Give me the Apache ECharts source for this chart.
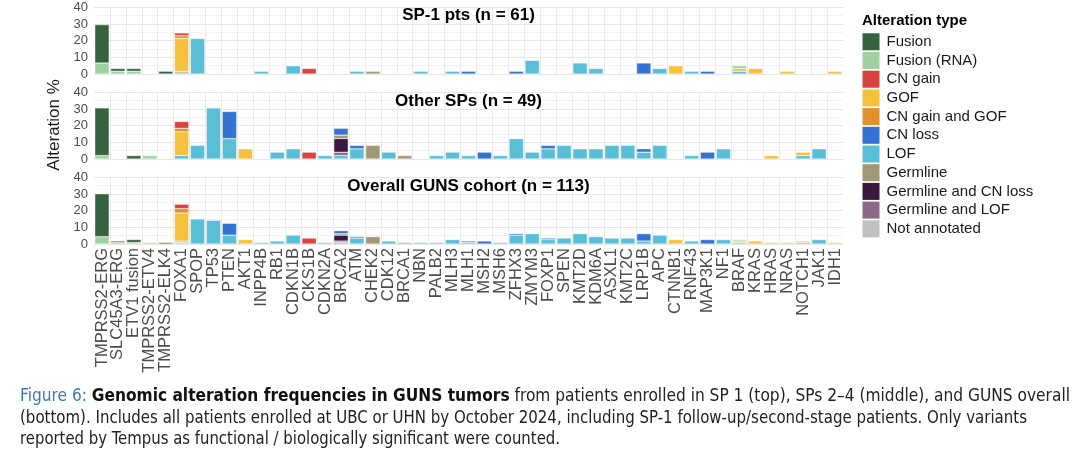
<!DOCTYPE html>
<html><head><meta charset="utf-8">
<script src="https://cdn.jsdelivr.net/npm/echarts@6/dist/echarts.min.js"></script>
<style>html,body{margin:0;padding:0;background:#fff}#c{width:1080px;height:456px}</style>
</head><body><div id="c"></div><script>
// ---------------- DATA ----------------
const genes = ["TMPRSS2-ERG","SLC45A3-ERG","ETV1 fusion","TMPRSS2-ETV4","TMPRSS2-ELK4","FOXA1","SPOP","TP53","PTEN","AKT1","INPP4B","RB1","CDKN1B","CKS1B","CDKN2A","BRCA2","ATM","CHEK2","CDK12","BRCA1","NBN","PALB2","MLH3","MLH1","MSH2","MSH6","ZFHX3","ZMYM3","FOXP1","SPEN","KMT2D","KDM6A","ASXL1","KMT2C","LRP1B","APC","CTNNB1","RNF43","MAP3K1","NF1","BRAF","KRAS","HRAS","NRAS","NOTCH1","JAK1","IDH1"];
const legendOrder = ["Fusion","Fusion (RNA)","CN gain","GOF","CN gain and GOF","CN loss","LOF","Germline","Germline and CN loss","Germline and LOF","Not annotated"];
const stackOrder = ["Not annotated","LOF","Germline and LOF","Germline and CN loss","Germline","CN loss","GOF","CN gain and GOF","CN gain","Fusion (RNA)","Fusion"];
const panelTitles = ["SP-1 pts (n = 61)","Other SPs (n = 49)","Overall GUNS cohort (n = 113)"];
const yTicks = [0,10,20,30,40];
const yLabel = "Alteration %";
const legendTitle = "Alteration type";

// [gene, alteration type, alteration %]
const sp1Values = [
 ["TMPRSS2-ERG","Fusion (RNA)",6.6],["TMPRSS2-ERG","Fusion",23.0],
 ["SLC45A3-ERG","Fusion (RNA)",1.64],["SLC45A3-ERG","Fusion",1.64],
 ["ETV1 fusion","Fusion (RNA)",1.64],["ETV1 fusion","Fusion",1.64],
 ["TMPRSS2-ELK4","Fusion",1.64],
 ["FOXA1","Not annotated",1.64],["FOXA1","GOF",19.7],["FOXA1","CN gain and GOF",1.64],["FOXA1","CN gain",1.64],
 ["SPOP","LOF",21.3],
 ["INPP4B","LOF",1.64],
 ["CDKN1B","LOF",4.9],
 ["CKS1B","CN gain",3.3],
 ["ATM","LOF",1.64],
 ["CHEK2","Germline",1.64],
 ["NBN","LOF",1.64],
 ["MLH3","LOF",1.64],
 ["MLH1","CN loss",1.64],
 ["ZFHX3","CN loss",1.64],
 ["ZMYM3","LOF",8.2],
 ["KMT2D","LOF",6.6],
 ["KDM6A","LOF",3.3],
 ["LRP1B","CN loss",6.6],
 ["APC","LOF",3.3],
 ["CTNNB1","GOF",4.9],
 ["RNF43","LOF",1.64],
 ["MAP3K1","CN loss",1.64],
 ["BRAF","LOF",1.64],["BRAF","GOF",1.64],["BRAF","Fusion (RNA)",1.64],
 ["KRAS","GOF",3.3],
 ["NRAS","GOF",1.64],
 ["IDH1","GOF",1.64]
];
const otherValues = [
 ["TMPRSS2-ERG","Fusion (RNA)",2.04],["TMPRSS2-ERG","Fusion",28.6],
 ["ETV1 fusion","Fusion",2.04],
 ["TMPRSS2-ETV4","Fusion (RNA)",2.04],
 ["FOXA1","LOF",2.04],["FOXA1","GOF",14.3],["FOXA1","CN gain and GOF",2.04],["FOXA1","CN gain",4.1],
 ["SPOP","LOF",8.2],
 ["TP53","LOF",30.6],
 ["PTEN","LOF",12.2],["PTEN","CN loss",16.3],
 ["AKT1","GOF",6.1],
 ["RB1","LOF",4.1],
 ["CDKN1B","LOF",6.1],
 ["CKS1B","CN gain",4.1],
 ["CDKN2A","LOF",2.04],
 ["BRCA2","LOF",2.04],["BRCA2","Germline and LOF",2.04],["BRCA2","Germline and CN loss",8.2],["BRCA2","Germline",2.04],["BRCA2","CN loss",4.1],
 ["ATM","LOF",6.1],["ATM","CN loss",2.04],
 ["CHEK2","Germline",8.2],
 ["CDK12","LOF",4.1],
 ["BRCA1","Germline",2.04],
 ["PALB2","LOF",2.04],
 ["MLH3","LOF",4.1],
 ["MLH1","LOF",2.04],
 ["MSH2","CN loss",4.1],
 ["MSH6","LOF",2.04],
 ["ZFHX3","LOF",12.2],
 ["ZMYM3","LOF",4.1],
 ["FOXP1","LOF",6.1],["FOXP1","CN loss",2.04],
 ["SPEN","LOF",8.2],
 ["KMT2D","LOF",6.1],
 ["KDM6A","LOF",6.1],
 ["ASXL1","LOF",8.2],
 ["KMT2C","LOF",8.2],
 ["LRP1B","LOF",4.1],["LRP1B","CN loss",2.04],
 ["APC","LOF",8.2],
 ["RNF43","LOF",2.04],
 ["MAP3K1","CN loss",4.1],
 ["NF1","LOF",6.1],
 ["HRAS","GOF",2.04],
 ["NOTCH1","LOF",2.04],["NOTCH1","GOF",2.04],
 ["JAK1","LOF",6.1]
];
const overallValues = [
 ["TMPRSS2-ERG","Fusion (RNA)",4.4],["TMPRSS2-ERG","Fusion",25.7],
 ["SLC45A3-ERG","Fusion (RNA)",0.885],["SLC45A3-ERG","Fusion",0.885],
 ["ETV1 fusion","Fusion (RNA)",0.885],["ETV1 fusion","Fusion",1.77],
 ["TMPRSS2-ETV4","Fusion (RNA)",0.885],
 ["TMPRSS2-ELK4","Fusion",0.885],
 ["FOXA1","Not annotated",0.885],["FOXA1","LOF",0.885],["FOXA1","GOF",16.8],["FOXA1","CN gain and GOF",2.65],["FOXA1","CN gain",2.65],
 ["SPOP","LOF",15.0],
 ["TP53","LOF",14.2],
 ["PTEN","LOF",5.3],["PTEN","CN loss",7.1],
 ["AKT1","GOF",2.65],
 ["INPP4B","LOF",0.885],
 ["RB1","LOF",1.77],
 ["CDKN1B","LOF",5.3],
 ["CKS1B","CN gain",3.54],
 ["CDKN2A","LOF",0.885],
 ["BRCA2","LOF",0.885],["BRCA2","Germline and LOF",0.885],["BRCA2","Germline and CN loss",3.54],["BRCA2","Germline",0.885],["BRCA2","CN loss",1.77],
 ["ATM","LOF",3.54],["ATM","CN loss",0.885],
 ["CHEK2","Germline",4.42],
 ["CDK12","LOF",1.77],
 ["BRCA1","Germline",0.885],
 ["NBN","LOF",0.885],
 ["PALB2","LOF",0.885],
 ["MLH3","LOF",2.65],
 ["MLH1","LOF",0.885],["MLH1","CN loss",0.885],
 ["MSH2","CN loss",1.77],
 ["MSH6","LOF",0.885],
 ["ZFHX3","LOF",5.3],["ZFHX3","CN loss",0.885],
 ["ZMYM3","LOF",6.2],
 ["FOXP1","LOF",2.65],["FOXP1","CN loss",0.885],
 ["SPEN","LOF",3.54],
 ["KMT2D","LOF",6.2],
 ["KDM6A","LOF",4.42],
 ["ASXL1","LOF",3.54],
 ["KMT2C","LOF",3.54],
 ["LRP1B","LOF",1.77],["LRP1B","CN loss",4.42],
 ["APC","LOF",5.3],
 ["CTNNB1","GOF",2.65],
 ["RNF43","LOF",1.77],
 ["MAP3K1","CN loss",2.65],
 ["NF1","LOF",2.65],
 ["BRAF","LOF",0.885],["BRAF","GOF",0.885],["BRAF","Fusion (RNA)",0.885],
 ["KRAS","GOF",1.77],
 ["HRAS","GOF",0.885],
 ["NRAS","GOF",0.885],
 ["NOTCH1","LOF",0.885],["NOTCH1","GOF",0.885],
 ["JAK1","LOF",2.65],
 ["IDH1","GOF",0.885]
];
const captionLines = [
 [{t:"Figure 6: ",s:"blue"},{t:"Genomic alteration frequencies in GUNS tumors",s:"b"},{t:" from patients enrolled in SP 1 (top), SPs 2–4 (middle), and GUNS overall",s:""}],
 [{t:"(bottom). Includes all patients enrolled at UBC or UHN by October 2024, including SP-1 follow-up/second-stage patients. Only variants",s:""}],
 [{t:"reported by Tempus as functional / biologically significant were counted.",s:""}]
];

// ---------------- STYLE ----------------
const typeColors = {
 "Fusion":"#37623f","Fusion (RNA)":"#a0d0a2","CN gain":"#d9433e","GOF":"#f5c13d",
 "CN gain and GOF":"#e0902c","CN loss":"#3473d2","LOF":"#58bfd7","Germline":"#a19876",
 "Germline and CN loss":"#3a1941","Germline and LOF":"#8b6a86","Not annotated":"#c0c0c0"
};
const FONT = '"Liberation Sans", Arial, sans-serif';
const CAP_FONT = '"Liberation Sans Narrow", "DejaVu Sans Condensed", "Liberation Sans", sans-serif';
const gridLeft = 94, gridWidth = 749, gridH = 66.7;
const gridTops = [7.3, 92.3, 177.3];
const panels = [sp1Values, otherValues, overallValues];

const grids = [], xAxes = [], yAxes = [], series = [];
panels.forEach((vals, p) => {
  grids.push({left: gridLeft, width: gridWidth, top: gridTops[p], height: gridH, containLabel: false});
  xAxes.push({type:'category', gridIndex:p, data:genes,
    axisLine:{show:false}, axisTick:{show:false}, splitLine:{show:false},
    axisLabel:{show:p===2, rotate:90, interval:0, fontSize:16.5, color:'#4d4d4d', margin:4, fontFamily:FONT}});
  yAxes.push({type:'value', gridIndex:p, min:yTicks[0], max:yTicks[yTicks.length-1], interval:10,
    axisLine:{show:false}, axisTick:{show:false},
    axisLabel:{fontSize:13, color:'#4d4d4d', margin:6, fontFamily:FONT},
    splitLine:{lineStyle:{color:'#e6e6e6', width:1}},
    minorTick:{show:false, splitNumber:2},
    minorSplitLine:{show:true, lineStyle:{color:'#f3f3f3', width:1}}});
  stackOrder.forEach(type => {
    const data = genes.map(g => {
      const hit = vals.find(v => v[0] === g && v[1] === type);
      return hit ? hit[2] : '-';
    });
    series.push({type:'bar', name:type, xAxisIndex:p, yAxisIndex:p, stack:'s'+p,
      barCategoryGap:'10%', data,
      itemStyle:{color:typeColors[type], borderColor:'#ffffff', borderWidth:0.4},
      emphasis:{disabled:true}});
  });
});
// vertical grid lines at category centres
panels.forEach((vals, p) => {
  xAxes.push({type:'value', gridIndex:p, min:-0.5, max:genes.length-0.5, interval:1, position:'top',
    axisLine:{show:false}, axisTick:{show:false}, axisLabel:{show:false},
    splitLine:{show:true, showMinLine:false, showMaxLine:false, lineStyle:{color:'#ebebeb', width:1}}});
});

// caption layout (measure and fit to reference widths)
const ctx = document.createElement('canvas').getContext('2d');
const capSize = 17;
function partFont(s){ return (s==='b'?'bold ':'') + capSize + 'px ' + CAP_FONT; }
const capTargets = [1050, 1007, 540];
const capY = [397, 419, 440];
const graphics = [];
captionLines.forEach((parts, i) => {
  let w = 0;
  parts.forEach(pt => { ctx.font = partFont(pt.s); w += ctx.measureText(pt.t).width; });
  const sx = capTargets[i] / w;
  const text = parts.map(pt => pt.s ? '{' + pt.s + '|' + pt.t + '}' : '{n|' + pt.t + '}').join('');
  graphics.push({type:'text', x:20, y:capY[i], scaleX:sx, silent:true,
    style:{text, fontSize:capSize, fontFamily:CAP_FONT, fill:'#222', verticalAlign:'middle', align:'left',
      rich:{
        n:{fontSize:capSize, fontFamily:CAP_FONT, fill:'#222'},
        b:{fontSize:capSize, fontFamily:CAP_FONT, fontWeight:'bold', fill:'#111'},
        blue:{fontSize:capSize, fontFamily:CAP_FONT, fill:'#3b78b6'}
      }}});
});
const titleY = [15, 101, 186];
panelTitles.forEach((t, i) => {
  graphics.push({type:'text', x:gridLeft + gridWidth/2, y:titleY[i], silent:true, z:10,
    style:{text:t, fontSize:17, fontWeight:'bold', fontFamily:FONT, fill:'#000', align:'center', verticalAlign:'middle'}});
});
graphics.push({type:'text', x:54, y:125, rotation:Math.PI/2, silent:true,
  style:{text:yLabel, fontSize:17, fontFamily:FONT, fill:'#1a1a1a', align:'center', verticalAlign:'middle'}});
graphics.push({type:'text', x:862, y:21, silent:true,
  style:{text:legendTitle, fontSize:15, fontWeight:'bold', fontFamily:FONT, fill:'#000', align:'left', verticalAlign:'middle'}});

const chart = echarts.init(document.getElementById('c'), null, {renderer:'canvas'});
chart.setOption({
  animation:false,
  backgroundColor:'#fff',
  grid:grids, xAxis:xAxes, yAxis:yAxes, series,
  legend:{data:legendOrder, orient:'vertical', left:862.5, top:33.3, padding:0, itemWidth:17, itemHeight:17, itemGap:1.7,
    icon:'rect', selectedMode:false, textStyle:{fontSize:15, color:'#1a1a1a', fontFamily:FONT, padding:[0,0,0,2]},
    itemStyle:{borderWidth:0}},
  graphic:graphics
});
</script></body></html>
